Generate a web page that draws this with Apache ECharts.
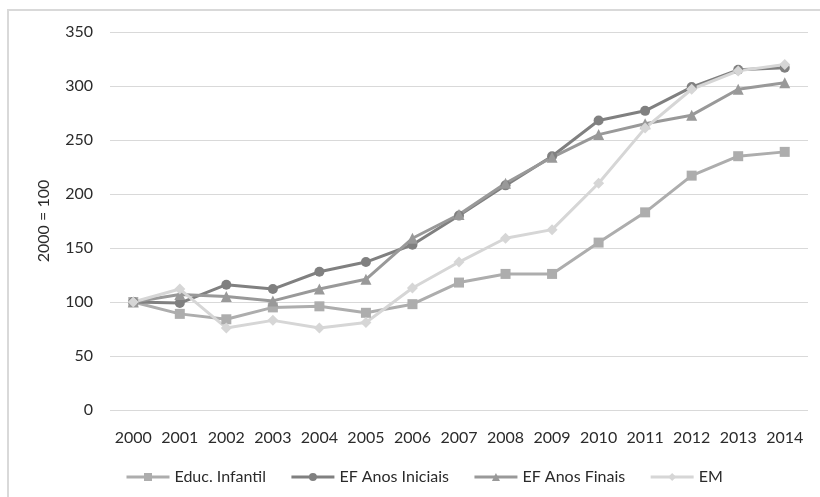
<!DOCTYPE html>
<html>
<head>
<meta charset="utf-8">
<script src="https://cdn.jsdelivr.net/npm/echarts@6/dist/echarts.min.js"></script>
<style>
  html, body { margin: 0; padding: 0; background: #fff; }
  #chart { width: 820px; height: 497px; }
</style>
</head>
<body>
<div id="chart"></div>
<script>
// Index of enrolment-related values, 2000 = 100
const years = ['2000','2001','2002','2003','2004','2005','2006','2007','2008','2009','2010','2011','2012','2013','2014'];
const educInfantil   = [100, 89, 84, 95, 96, 90, 98, 118, 126, 126, 155, 183, 217, 235, 239];
const efAnosIniciais = [100, 99, 116, 112, 128, 137, 153, 180, 208, 235, 268, 277, 299, 315, 317];
const efAnosFinais   = [100, 107, 105, 101, 112, 121, 159, 181, 210, 234, 255, 265, 273, 297, 303];
const em             = [100, 112, 76, 83, 76, 81, 113, 137, 159, 167, 210, 261, 297, 314, 320];
const yTicks = { min: 0, max: 350, interval: 50 };

const FONT = 'Lato';
const TEXT = '#2b2b2b';

function lineSeries(name, data, color, symbol, size) {
  return {
    name: name,
    type: 'line',
    data: data,
    symbol: symbol,
    symbolSize: size,
    showAllSymbol: true,
    lineStyle: { color: color, width: 3 },
    itemStyle: { color: color, borderWidth: 0 },
    emphasis: { disabled: true },
    animation: false
  };
}

const chart = echarts.init(document.getElementById('chart'), null, { renderer: 'canvas' });
chart.setOption({
  backgroundColor: '#ffffff',
  animation: false,
  graphic: [{
    type: 'rect',
    shape: { x: 8, y: 10, width: 830, height: 500 },
    style: { fill: null, stroke: '#d9d9d9', lineWidth: 2 },
    silent: true,
    z: -1
  }],
  grid: { left: 110, right: 12, top: 32, bottom: 87 },
  legend: {
    bottom: 7,
    left: 120,
    itemWidth: 43,
    itemHeight: 10,
    itemGap: 24,
    lineStyle: { width: 3 },
    textStyle: { fontFamily: FONT, fontSize: 16, color: TEXT },
    data: ['Educ. Infantil', 'EF Anos Iniciais', 'EF Anos Finais', 'EM']
  },
  xAxis: {
    type: 'category',
    data: years,
    boundaryGap: true,
    axisLine: { show: false },
    axisTick: { show: false },
    axisLabel: { interval: 0, fontFamily: FONT, fontSize: 16, color: TEXT, margin: 20 }
  },
  yAxis: {
    type: 'value',
    min: yTicks.min,
    max: yTicks.max,
    interval: yTicks.interval,
    name: '2000 = 100',
    nameLocation: 'middle',
    nameGap: 58,
    nameRotate: 90,
    nameTextStyle: { fontFamily: FONT, fontSize: 16, color: TEXT },
    axisLine: { show: false },
    axisTick: { show: false },
    axisLabel: { fontFamily: FONT, fontSize: 16, color: TEXT, margin: 17 },
    splitLine: { lineStyle: { color: '#d9d9d9', width: 1 } }
  },
  series: [
    lineSeries('Educ. Infantil', educInfantil, '#adadad', 'rect', 10),
    lineSeries('EF Anos Iniciais', efAnosIniciais, '#808080', 'circle', 10),
    lineSeries('EF Anos Finais', efAnosFinais, '#999999', 'triangle', 11),
    lineSeries('EM', em, '#d6d6d6', 'diamond', 11)
  ]
});
</script>
</body>
</html>
